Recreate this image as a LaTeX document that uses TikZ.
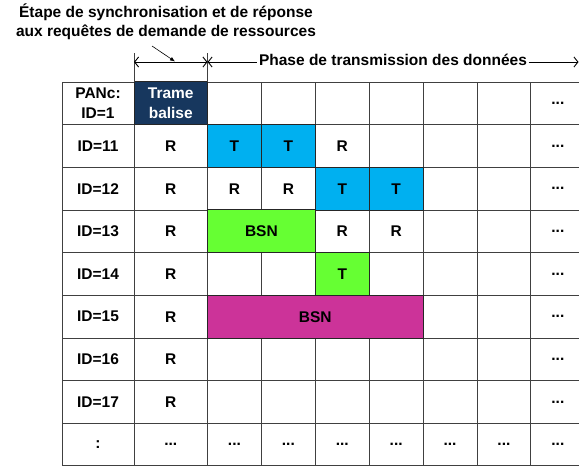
\documentclass[tikz,border=0pt]{standalone}
\usepackage{fontspec}
\setmainfont{Liberation Sans}
\usetikzlibrary{arrows.meta}
\definecolor{navyT}{HTML}{17375E}
\definecolor{cyanT}{HTML}{00B0F0}
\definecolor{greenT}{HTML}{66FF33}
\definecolor{magT}{HTML}{CC3399}
\begin{document}
\begin{tikzpicture}[x=1pt,y=-1pt,
  font=\fontsize{15.5}{19.5}\selectfont\bfseries,
  gridline/.style={draw=black!75, line width=1pt},
  cell/.style={inner sep=0pt, align=center},
  colcell/.style={cell, draw=black!85, line width=1pt, minimum height=42.67pt},
  dimarrow/.style={line width=0.9pt, black},
  barb/.tip={Straight Barb[length=4pt,width=10pt]}
]
\useasboundingbox (0,0) rectangle (579,466);
\clip (0,0) rectangle (579,466);

% grid
\foreach \y in {82,124.67,167.33,210,252.67,295.33,338,380.67,423.33,465.5}
  \draw[gridline] (62,\y) -- (584.8,\y);
\foreach \x in {62,134,207.5,261.4,315.3,369.2,423.1,477,530.9,584.8}
  \draw[gridline] (\x,82) -- (\x,466);

% coloured cells
\node[colcell, fill=navyT, text=white, minimum width=73.5pt] (trame) at (170.75,103.33) {Trame\\balise};
\node[colcell, fill=cyanT, minimum width=53.9pt] (t11a) at (234.45,146) {T};
\node[colcell, fill=cyanT, minimum width=53.9pt] (t11b) at (288.35,146) {T};
\node[colcell, fill=cyanT, minimum width=53.9pt] (t12a) at (342.25,188.67) {T};
\node[colcell, fill=cyanT, minimum width=53.9pt] (t12b) at (396.15,188.67) {T};
\node[colcell, fill=greenT, minimum width=107.8pt] (bsn13) at (261.4,231.33) {BSN};
\node[colcell, fill=greenT, minimum width=53.9pt] (t14) at (342.25,274) {T};
\node[colcell, fill=magT, minimum width=215.6pt] (bsn15) at (315.3,316.67) {BSN};

% row labels
\node[cell] (l0) at (98,103.33) {PANc:\\ID=1};
\node[cell] (l1) at (98,146) {ID=11};
\node[cell] (l2) at (98,188.67) {ID=12};
\node[cell] (l3) at (98,231.33) {ID=13};
\node[cell] (l4) at (98,274) {ID=14};
\node[cell] (l5) at (98,316.67) {ID=15};
\node[cell] (l6) at (98,359.33) {ID=16};
\node[cell] (l7) at (98,402) {ID=17};
\node[cell] (l8) at (98,444.67) {:};

% R cells
\foreach \y [count=\i] in {146,188.67,231.33,274,316.67,359.33,402}
  \node[cell] (r\i) at (170.75,\y) {R};
\node[cell] (r11c) at (342.25,146) {R};
\node[cell] (r12a) at (234.45,188.67) {R};
\node[cell] (r12b) at (288.35,188.67) {R};
\node[cell] (r13a) at (342.25,231.33) {R};
\node[cell] (r13b) at (396.15,231.33) {R};

% dots
\foreach \y [count=\i] in {103.33,146,188.67,231.33,274,316.67,359.33,402}
  \node[cell] (d\i) at (557.85,\y) {...};
\foreach \x [count=\i] in {170.75,234.45,288.35,342.25,396.15,450.05,503.95,557.85}
  \node[cell] (b\i) at (\x,444.67) {...};

% top annotations
\node[align=center, inner sep=0pt, anchor=base] (title) at (166,36.5) {Étape de synchronisation et de réponse\\aux requêtes de demande de ressources};
\coordinate (v1t) at (134,53);
\coordinate (v1b) at (134,82);
\coordinate (v2t) at (207.5,53);
\coordinate (v2b) at (207.5,82);
\draw[gridline] (v1t) -- (v1b);
\draw[gridline] (v2t) -- (v2b);
\coordinate (a1) at (134,62);
\coordinate (a2) at (207.5,62);
\coordinate (a3) at (578.5,62);
\draw[dimarrow, {barb}-{barb}] (a1) -- (a2);
\node[anchor=base, inner xsep=1.5pt, inner ysep=0pt] (phase) at (393,65.5) {Phase de transmission des données};
\draw[dimarrow, {barb}-] (a2) -- (a2 -| phase.west);
\draw[dimarrow, -{barb}] (a3 -| phase.east) -- (a3);
\coordinate (ls) at (152,46);
\coordinate (lt) at (175,61.5);
\draw[line width=0.6pt, -{Latex[length=5pt,width=4pt]}] (ls) -- (lt);
\end{tikzpicture}
\end{document}
